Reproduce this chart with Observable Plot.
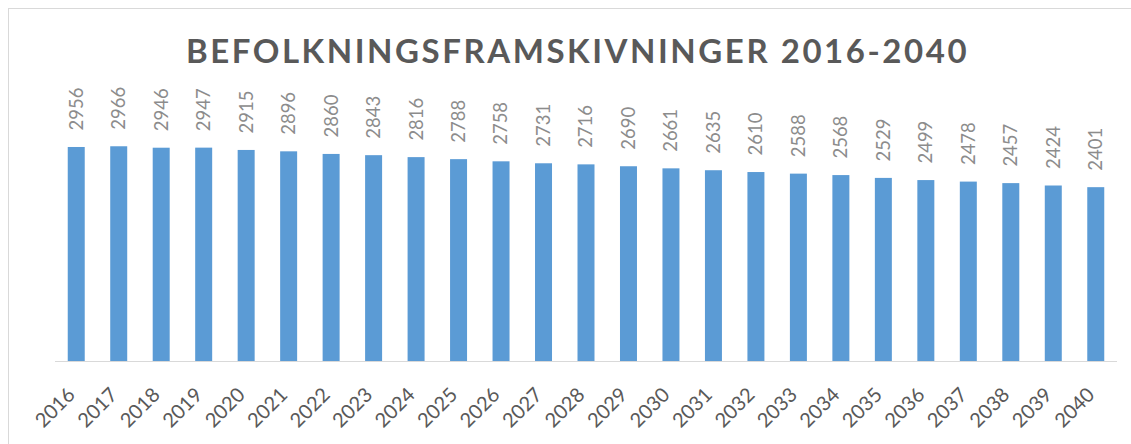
<!DOCTYPE html>
<html>
<head>
<meta charset="utf-8">
<script src="https://cdn.jsdelivr.net/npm/d3@7"></script>
<script src="https://cdn.jsdelivr.net/npm/@observablehq/plot@0.6"></script>
<style>
  html, body { margin: 0; padding: 0; background: #fff; }
  #wrap { position: relative; width: 1131px; height: 444px; overflow: hidden; font-family: Lato, "Open Sans", sans-serif; }
  #frame { position: absolute; left: 8px; top: 8px; width: 1200px; height: 500px; border: 1.5px solid #d9d9d9; box-sizing: border-box; }
  #title { position: absolute; left: 12px; width: 1131px; top: 30px; text-align: center; font-size: 33px; font-weight: bold; letter-spacing: 2.55px; color: #595959; line-height: 40px; }
  #chart { position: absolute; left: 0; top: 0; }
</style>
</head>
<body>
<div id="wrap">
  <div id="frame"></div>
  <div id="title">BEFOLKNINGSFRAMSKIVNINGER 2016-2040</div>
  <div id="chart"></div>
</div>
<script>
const years = ["2016","2017","2018","2019","2020","2021","2022","2023","2024","2025","2026","2027","2028","2029","2030","2031","2032","2033","2034","2035","2036","2037","2038","2039","2040"];
const values = [2956,2966,2946,2947,2915,2896,2860,2843,2816,2788,2758,2731,2716,2690,2661,2635,2610,2588,2568,2529,2499,2478,2457,2424,2401];

const data = years.map((y, i) => ({year: y, value: values[i]}));

const chart = Plot.plot({
  width: 1131,
  height: 444,
  marginLeft: 55,
  marginRight: 14,
  marginTop: 143.8,
  marginBottom: 83,
  style: {fontFamily: "Lato, 'Open Sans', sans-serif", background: "transparent", overflow: "visible"},
  x: {domain: years, paddingInner: 0.6, paddingOuter: 0.3, align: 0.5, round: false},
  y: {domain: [0, 3000], axis: null},
  marks: [
    Plot.barY(data, {x: "year", y: "value", fill: "#5b9bd5"}),
    Plot.ruleY([0], {stroke: "#d9d9d9", strokeWidth: 1.2}),
    Plot.text(data, {x: "year", y: "value", text: d => String(d.value), rotate: -90, textAnchor: "start", dy: -17, fill: "#8c8c8c", fontSize: 18.5}),
    Plot.axisX({tickSize: 0, tickRotate: -45, tickPadding: 30, dx: -5, fontSize: 20, color: "#595959", label: null, style: {letterSpacing: "1.5px"}})
  ]
});
document.getElementById("chart").appendChild(chart);
</script>
</body>
</html>
